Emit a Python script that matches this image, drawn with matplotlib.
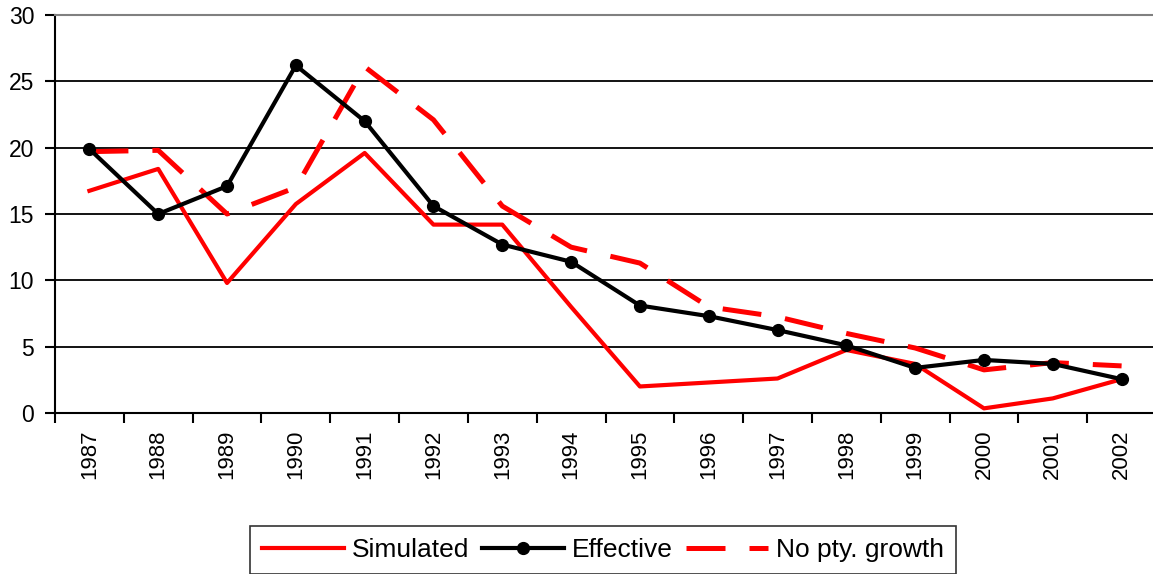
import matplotlib.pyplot as plt
from matplotlib.ticker import FixedLocator

plt.rcParams['font.family'] = ['Liberation Sans', 'DejaVu Sans']

# ----------- data ------------------------
years = ['1987', '1988', '1989', '1990', '1991', '1992', '1993', '1994',
         '1995', '1996', '1997', '1998', '1999', '2000', '2001', '2002']
simulated = [16.75, 18.4, 9.8, 15.75, 19.6, 14.2, 14.2, 8.0,
             2.0, 2.3, 2.6, 4.75, 3.7, 0.35, 1.1, 2.55]
effective = [19.9, 15.0, 17.1, 26.2, 22.0, 15.6, 12.7, 11.4,
             8.1, 7.3, 6.25, 5.1, 3.4, 4.0, 3.7, 2.55]
no_pty = [19.7, 19.8, 15.0, 17.0, 26.1, 22.1, 15.6, 12.5,
          11.3, 8.0, 7.25, 6.0, 4.9, 3.25, 3.8, 3.55]

W, H = 1153, 574
fig = plt.figure(figsize=(W / 100, H / 100), dpi=100)
ax = fig.add_axes([55 / W, 1 - 413 / H, 1101 / W, 398 / H])

x = range(len(years))
ax.plot(x, simulated, color='#ff0000', lw=3.0, label='Simulated', zorder=3)
ax.plot(x, effective, color='black', lw=3.0, marker='o', markersize=8.5,
        label='Effective', zorder=5)
ax.plot(x, no_pty, color='#ff0000', lw=3.6, dashes=(7.8, 4.8),
        label='No pty. growth', zorder=4)

ax.set_ylim(0, 30)
ax.set_xlim(-0.5, len(years) - 0.5)
ax.set_yticks(range(0, 31, 5))
ax.tick_params(axis='y', labelsize=16.5, length=7, width=1.5, pad=8)

# category labels centred, tick marks between categories (Excel style)
ax.set_xticks(list(x))
ax.set_xticklabels(years, rotation=90, fontsize=16)
ax.tick_params(axis='x', which='major', length=0, pad=12)
ax.xaxis.set_minor_locator(FixedLocator([i - 0.5 for i in range(len(years) + 1)]))
ax.tick_params(axis='x', which='minor', length=7, width=1.5)

for v in range(5, 30, 5):
    ax.axhline(v, color='black', lw=1.3, zorder=1)

ax.spines['top'].set_color('#808080')
ax.spines['top'].set_linewidth(1.5)
ax.spines['right'].set_visible(False)
ax.spines['left'].set_linewidth(1.5)
ax.spines['bottom'].set_linewidth(1.5)

leg = fig.legend(loc='center', bbox_to_anchor=(603 / W, 1 - 550 / H), ncol=3,
                 fontsize=19, frameon=True, fancybox=False, handlelength=3.1,
                 handletextpad=0.3, columnspacing=0.5, borderpad=0.45)
leg.get_frame().set_edgecolor('black')
leg.get_frame().set_linewidth(1.2)

fig.savefig('out.png', dpi=100)
